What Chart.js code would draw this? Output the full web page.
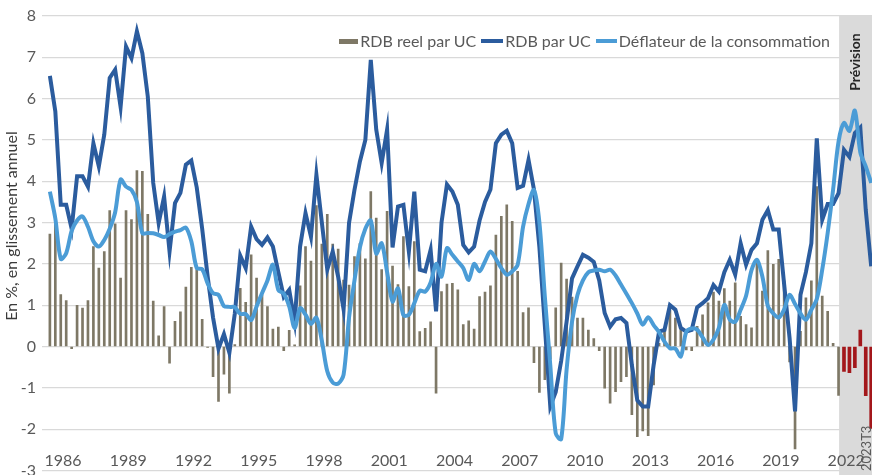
<!DOCTYPE html>
<html lang="fr">
<head>
<meta charset="utf-8">
<title>RDB par UC et déflateur de la consommation</title>
<script src="https://cdn.jsdelivr.net/npm/chart.js@4.4.1/dist/chart.umd.min.js"></script>
<style>
  body{margin:0;background:#fff;font-family:Lato,"Open Sans",sans-serif}
  #wrap{position:relative;width:872px;height:475px}
  #legende{position:absolute;top:30px;right:42px;display:flex;align-items:center;font-size:16px;color:#595959;white-space:nowrap;line-height:22px}
  #legende .it{display:flex;align-items:center;margin-left:5px}
  #legende .sw{display:inline-block;margin-right:2px}
</style>
</head>
<body>
<div id="wrap">
  <canvas id="graph" width="872" height="475"></canvas>
  <div id="legende"></div>
</div>
<script>
// glissement annuel en %, trimestriel de 1986T1 à 2023T4 (prévision à partir de 2022T3)
const debut = 1986;
const GRIS = "#7e7866", BLEU = "#2b5c9e", CIEL = "#4b9cd6", ROUGE = "#a3171b";

const rdbReel = [
  2.72, 3.03, 1.26, 1.11, -0.05, 1.0, 0.93, 1.11, 2.42, 1.9,
  2.3, 3.29, 2.97, 1.66, 3.29, 3.07, 4.26, 4.24, 3.2, 1.1,
  0.26, 0.97, -0.4, 0.61, 0.84, 1.44, 1.92, 1.86, 0.66, -0.02,
  -0.73, -1.33, -0.67, -1.13, 0.05, 1.41, 1.07, 2.22, 1.66, 1.25,
  0.97, 0.42, 0.47, -0.1, 0.39, 0.04, 1.47, 2.42, 2.07, 3.41,
  2.48, 3.2, 2.48, 2.36, 1.61, 1.49, 2.18, 2.49, 2.12, 3.75,
  3.11, 1.86, 3.27, 1.95, 1.5, 2.66, 1.45, 2.54, 0.36, 0.44,
  0.6, -1.13, 1.33, 1.51, 1.53, 1.37, 0.53, 0.62, 0.42, 1.21,
  1.32, 1.47, 2.7, 3.15, 3.43, 3.03, 1.82, 0.82, 0.94, -0.39,
  -1.11, -0.8, -0.3, 0.94, 2.02, 1.63, 1.2, 0.69, 0.69, 0.4,
  0.19, -0.1, -1.01, -1.37, -1.09, -0.85, -0.73, -1.65, -2.18, -2.04,
  -2.16, -0.93, 0.08, 0.37, 0.89, 0.69, 0.41, -0.08, -0.1, 0.49,
  0.77, 1.06, 1.32, 1.1, 1.4, 1.1, 1.54, 0.73, 0.53, 0.45,
  2.11, 1.34, 2.32, 1.99, 2.11, 1.59, -0.37, -2.48, 0.37, 1.18,
  1.59, 3.87, 1.22, 0.85, 0.08, -1.18
];
// prévision 2022T3 -> 2023T4
const rdbReelPrev = [-0.6, -0.63, -0.51, 0.4, -1.19, -1.98];

const rdbUC = [
  6.55, 5.69, 3.43, 3.43, 2.85, 4.12, 4.12, 3.87, 4.92, 4.36,
  5.13, 6.5, 6.7, 5.8, 7.26, 6.98, 7.63, 7.1, 6.05, 3.96,
  2.99, 3.63, 2.3, 3.47, 3.72, 4.4, 4.5, 3.85, 2.85, 1.7,
  0.7, -0.05, 0.3, -0.15, 0.8, 2.2, 1.9, 2.9, 2.6, 2.46,
  2.64, 2.42, 1.8, 1.2, 1.37, 0.6, 2.42, 3.23, 2.66, 4.16,
  3.0, 1.86, 2.3, 1.69, 0.9, 2.99, 3.79, 4.48, 5.0, 6.94,
  5.25, 4.44, 5.25, 2.4, 3.39, 3.43, 2.3, 3.75, 1.86, 1.82,
  2.34, 0.85, 3.0, 3.92, 3.75, 3.43, 2.46, 2.28, 2.42, 3.05,
  3.5, 3.8, 4.92, 5.13, 5.22, 4.92, 3.84, 3.89, 4.52, 3.8,
  2.4, 0.5, -1.45, -1.1, -0.35, 0.6, 1.65, 1.94, 2.22, 2.15,
  2.05, 1.6, 0.81, 0.48, 0.66, 0.69, 0.57, -0.45, -1.3, -1.45,
  -1.45, -0.45, 0.36, 0.4, 1.0, 0.89, 0.45, 0.36, 0.4, 0.95,
  1.05, 1.17, 1.49, 1.33, 1.8, 2.1, 1.74, 2.5, 1.98, 2.34,
  2.5, 3.07, 3.3, 2.83, 2.83, 1.5, 0.2, -1.57, 1.25, 1.8,
  2.5, 5.04, 3.07, 3.45, 3.45, 3.71, 4.76, 4.59, 5.17, 5.3,
  3.31, 1.94
];

const deflateur = [
  3.75, 3.1, 2.12, 2.26, 2.8, 3.05, 3.15, 2.9, 2.55, 2.42,
  2.58, 2.85, 3.25, 4.04, 3.87, 3.79, 3.5, 2.74, 2.75, 2.74,
  2.7, 2.65, 2.72, 2.78, 2.82, 2.88, 2.55, 1.9, 1.87, 1.53,
  1.29, 1.25, 0.98, 0.96, 0.95, 0.79, 0.79, 0.64, 0.97, 1.29,
  1.6, 1.98, 1.37, 1.28, 0.97, 0.45, 0.93, 0.77, 0.55, 0.7,
  0.14, -0.6, -0.87, -0.9, -0.68, 0.7, 1.6, 2.4, 2.85, 3.05,
  2.25, 2.5, 1.8, 1.09, 1.41, 0.76, 0.77, 1.05, 1.35, 1.33,
  1.55, 2.0, 1.69, 2.38, 2.22, 2.06, 1.9, 1.61, 2.0, 1.82,
  2.06, 2.3, 2.12, 1.9, 1.74, 1.82, 1.98, 2.9, 3.45, 3.79,
  3.0, 1.21, -0.45, -2.1, -2.24, -0.56, 0.6, 1.25, 1.6, 1.8,
  1.84, 1.86, 1.82, 1.86, 1.72, 1.5, 1.28, 1.05, 0.8, 0.53,
  0.71, 0.52, 0.35, 0.12, -0.04, -0.05, -0.24, 0.36, 0.44, 0.41,
  0.22, 0.04, 0.17, 0.45, 1.01, 0.65, 0.6, 0.89, 1.23, 1.85,
  2.1, 1.69, 0.98, 0.8, 0.7, 0.9, 1.25, 1.03, 0.8, 0.65,
  0.89, 1.15, 1.86, 2.75, 3.8, 4.96, 5.41, 5.22, 5.71, 4.7,
  4.36, 3.96
];

function trim(i){ return debut + i/4; }
function serie(vals, dec=0){ return vals.map((v,i)=>({x: trim(i+dec), y: v})); }

// légende en HTML, posée dans la zone du graphique
const items = [
  {label:"RDB reel par UC", col:GRIS, w:19, h:5},
  {label:"RDB par UC", col:BLEU, w:22, h:4},
  {label:"Déflateur de la consommation", col:CIEL, w:21, h:4}
];
document.getElementById("legende").innerHTML = items.map(it=>
  `<span class="it"><span class="sw" style="width:${it.w}px;height:${it.h}px;background:${it.col}"></span>${it.label}</span>`
).join("");

// zone grisée de prévision + textes verticaux
const habillage = {
  id: "habillage",
  beforeDatasetsDraw(chart){
    const {ctx, chartArea:a, scales:{x}} = chart;
    const x0 = x.getPixelForValue(trim(145.1));
    ctx.save();
    ctx.fillStyle = "#dadada";
    ctx.fillRect(x0, a.top, chart.width - x0, chart.height - a.top);
    ctx.restore();
  },
  afterDraw(chart){
    const {ctx, scales:{x}} = chart;
    ctx.save();
    ctx.fillStyle = "#3a3a3a"; ctx.font = "16px Lato";
    ctx.textAlign = "center"; ctx.textBaseline = "middle";
    ctx.translate(12, 226); ctx.rotate(-Math.PI/2);
    ctx.fillText("En %, en glissement annuel", 0, 0);
    ctx.restore();

    ctx.save();
    ctx.fillStyle = "#262626"; ctx.font = "bold 14px Lato";
    ctx.textAlign = "center"; ctx.textBaseline = "middle";
    ctx.translate(855, 62); ctx.rotate(-Math.PI/2);
    ctx.fillText("Prévision", 0, 0);
    ctx.restore();

    // étiquette verticale du dernier trimestre repéré
    ctx.save();
    ctx.fillStyle = "#595959"; ctx.font = "13px Lato";
    ctx.textAlign = "left"; ctx.textBaseline = "middle";
    ctx.translate(x.getPixelForValue(trim(150)) + 1.5, 471); ctx.rotate(-Math.PI/2);
    ctx.fillText("2023T3", 0, 0);
    ctx.restore();
  }
};

Chart.defaults.font.family = "Lato";

new Chart(document.getElementById("graph"), {
  type: "bar",
  data: {
    datasets: [
      { type:"bar", label:"RDB reel par UC", data: serie(rdbReel), backgroundColor: GRIS, barThickness: 2, grouped: false, order: 3 },
      { type:"bar", label:"RDB reel par UC (prévision)", data: serie(rdbReelPrev, 146), backgroundColor: ROUGE, barThickness: 3, grouped: false, order: 3 },
      { type:"line", label:"RDB par UC", data: serie(rdbUC), borderColor: BLEU, backgroundColor: BLEU, borderWidth: 4, pointRadius: 0, tension: 0, order: 2 },
      { type:"line", label:"Déflateur de la consommation", data: serie(deflateur), borderColor: CIEL, backgroundColor: CIEL, borderWidth: 4, pointRadius: 0, tension: 0.3, order: 1 }
    ]
  },
  options: {
    responsive: false, animation: false,
    layout: { padding: { top: 16, bottom: 4.5, left: 0, right: 0 } },
    plugins: { legend: { display: false }, tooltip: { enabled: false } },
    scales: {
      x: {
        type: "linear", offset: false, min: trim(-1.45), max: trim(151.15),
        grid: { display: false }, border: { display: false },
        afterBuildTicks: s => { s.ticks = []; for (let a = 1986; a <= 2022; a += 3) s.ticks.push({value: a + 0.6}); },
        afterFit: s => { s.height = 0; s.paddingLeft = 0; s.paddingRight = 0; },
        ticks: { mirror: true, padding: 0, z: 1, autoSkip: false, maxRotation: 0, color: "#595959", font: {size: 16}, callback: v => String(Math.floor(v)) }
      },
      y: {
        min: -3, max: 8,
        afterFit: s => { s.width = 42; s.paddingTop = 0; s.paddingBottom = 0; },
        grid: { color: "#d9d9d9", lineWidth: 1.3, drawTicks: false }, border: { display: false },
        ticks: { stepSize: 1, padding: 6, color: "#595959", font: {size: 16} }
      }
    }
  },
  plugins: [habillage]
});
</script>
</body>
</html>
